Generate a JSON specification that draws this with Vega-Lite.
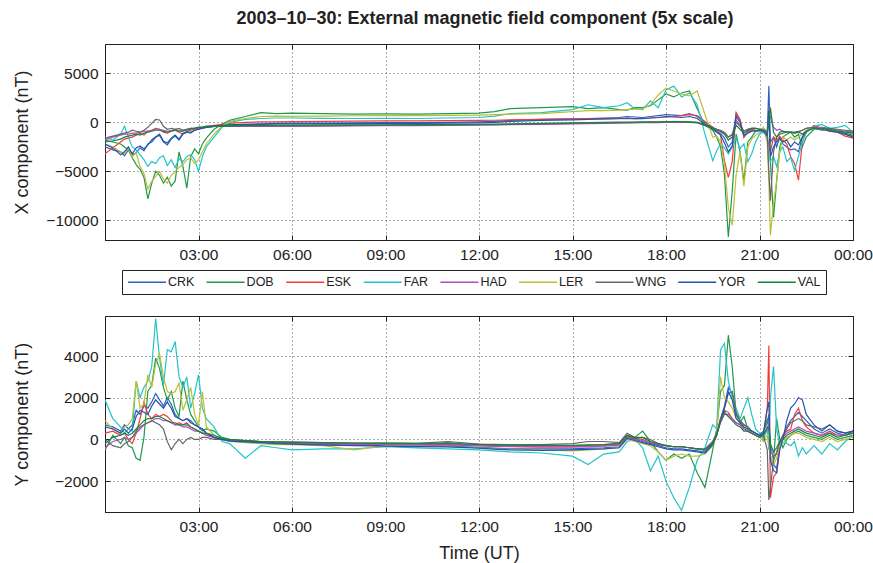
{
"$schema": "https://vega.github.io/schema/vega-lite/v6.json",
"autosize": {"type": "pad"},
"padding": {"left": 12, "top": 10, "right": 0, "bottom": 0},
"background": "white",
"title": {"text": "2003–10–30: External magnetic field component (5x scale)", "font": "Liberation Sans", "fontSize": 18, "fontWeight": "bold", "color": "#222", "offset": 15, "anchor": "middle", "frame": "group", "dx": 6},
"spacing": 76,
"bounds": "flush",
"config": {
  "view": {"stroke": "#222", "strokeWidth": 1},
  "axis": {"domainColor": "#222", "tickColor": "#222", "tickSize": -5, "labelPadding": 12, "labelFont": "Liberation Sans", "labelFontSize": 15.5, "labelColor": "#222", "titleFont": "Liberation Sans", "titleFontSize": 18, "titleFontWeight": "normal", "titleColor": "#222", "gridColor": "#333", "gridDash": [1, 3], "gridOpacity": 0.8, "labelFlush": false, "labelOverlap": false},
  "legend": {"orient": "none", "legendX": 17, "legendY": 226, "direction": "horizontal", "columns": 9, "symbolType": "M-1,0H5.33", "symbolSize": 144, "symbolStrokeWidth": 1.5, "labelFont": "Liberation Sans", "labelFontSize": 12.5, "labelColor": "#222", "labelOffset": 27, "strokeColor": "#222", "fillColor": "white", "padding": 5, "columnPadding": 8.6}
},
"data": {"values": [
{"t":0,"s":"CRK","x":-2500,"y":700},{"t":0.25,"s":"CRK","x":-2800,"y":600},{"t":0.5,"s":"CRK","x":-3000,"y":400},{"t":0.625,"s":"CRK","x":-3400,"y":700},{"t":0.75,"s":"CRK","x":-2800,"y":500},{"t":0.875,"s":"CRK","x":-3300,"y":700},{"t":1,"s":"CRK","x":-3100,"y":1400},{"t":1.125,"s":"CRK","x":-2600,"y":1200},{"t":1.25,"s":"CRK","x":-2900,"y":1600},{"t":1.375,"s":"CRK","x":-2200,"y":1500},{"t":1.5,"s":"CRK","x":-2000,"y":1800},{"t":1.625,"s":"CRK","x":-1500,"y":2200},{"t":1.75,"s":"CRK","x":-1300,"y":1900},{"t":1.875,"s":"CRK","x":-2000,"y":1600},{"t":2,"s":"CRK","x":-2300,"y":2000},{"t":2.125,"s":"CRK","x":-1700,"y":1700},{"t":2.25,"s":"CRK","x":-1400,"y":1200},{"t":2.375,"s":"CRK","x":-1800,"y":1000},{"t":2.5,"s":"CRK","x":-1200,"y":900},{"t":2.625,"s":"CRK","x":-1000,"y":1000},{"t":2.75,"s":"CRK","x":-1100,"y":900},{"t":2.875,"s":"CRK","x":-800,"y":700},{"t":3,"s":"CRK","x":-700,"y":600},{"t":3.125,"s":"CRK","x":-600,"y":500},{"t":3.25,"s":"CRK","x":-500,"y":300},{"t":3.5,"s":"CRK","x":-400,"y":100},{"t":3.75,"s":"CRK","x":-300,"y":0},{"t":4,"s":"CRK","x":-250,"y":-50},{"t":4.5,"s":"CRK","x":-200,"y":-100},{"t":5,"s":"CRK","x":-150,"y":-150},{"t":5.5,"s":"CRK","x":-100,"y":-180},{"t":6,"s":"CRK","x":-80,"y":-200},{"t":7,"s":"CRK","x":-60,"y":-250},{"t":8,"s":"CRK","x":-50,"y":-280},{"t":9,"s":"CRK","x":-30,"y":-280},{"t":10,"s":"CRK","x":-20,"y":-300},{"t":11,"s":"CRK","x":0,"y":-320},{"t":12,"s":"CRK","x":50,"y":-380},{"t":12.5,"s":"CRK","x":100,"y":-420},{"t":13,"s":"CRK","x":200,"y":-450},{"t":14,"s":"CRK","x":300,"y":-450},{"t":15,"s":"CRK","x":350,"y":-450},{"t":15.5,"s":"CRK","x":400,"y":-420},{"t":16,"s":"CRK","x":450,"y":-400},{"t":16.5,"s":"CRK","x":500,"y":-350},{"t":16.75,"s":"CRK","x":600,"y":100},{"t":17,"s":"CRK","x":550,"y":0},{"t":17.25,"s":"CRK","x":500,"y":-100},{"t":17.5,"s":"CRK","x":600,"y":-200},{"t":17.75,"s":"CRK","x":700,"y":-300},{"t":18,"s":"CRK","x":800,"y":-400},{"t":18.25,"s":"CRK","x":750,"y":-450},{"t":18.5,"s":"CRK","x":700,"y":-450},{"t":18.75,"s":"CRK","x":900,"y":-500},{"t":19,"s":"CRK","x":600,"y":-550},{"t":19.25,"s":"CRK","x":0,"y":-600},{"t":19.5,"s":"CRK","x":-600,"y":-200},{"t":19.625,"s":"CRK","x":-900,"y":300},{"t":19.75,"s":"CRK","x":-1100,"y":1000},{"t":19.875,"s":"CRK","x":-1600,"y":1600},{"t":20,"s":"CRK","x":-2500,"y":2500},{"t":20.125,"s":"CRK","x":-2000,"y":2200},{"t":20.25,"s":"CRK","x":900,"y":1200},{"t":20.375,"s":"CRK","x":200,"y":900},{"t":20.5,"s":"CRK","x":-1500,"y":700},{"t":20.625,"s":"CRK","x":-1000,"y":600},{"t":20.75,"s":"CRK","x":-800,"y":400},{"t":20.875,"s":"CRK","x":-800,"y":300},{"t":21,"s":"CRK","x":-900,"y":200},{"t":21.125,"s":"CRK","x":-1000,"y":400},{"t":21.25,"s":"CRK","x":-1000,"y":800},{"t":21.3,"s":"CRK","x":3700,"y":1200},{"t":21.35,"s":"CRK","x":-2000,"y":-800},{"t":21.45,"s":"CRK","x":-1500,"y":-1200},{"t":21.55,"s":"CRK","x":-2500,"y":-1400},{"t":21.65,"s":"CRK","x":-1500,"y":-300},{"t":21.75,"s":"CRK","x":-2200,"y":100},{"t":21.875,"s":"CRK","x":-2500,"y":600},{"t":22,"s":"CRK","x":-2800,"y":900},{"t":22.125,"s":"CRK","x":-2700,"y":1100},{"t":22.25,"s":"CRK","x":-3000,"y":1300},{"t":22.375,"s":"CRK","x":-1500,"y":1100},{"t":22.5,"s":"CRK","x":-900,"y":900},{"t":22.75,"s":"CRK","x":-500,"y":500},{"t":23,"s":"CRK","x":-600,"y":300},{"t":23.25,"s":"CRK","x":-800,"y":500},{"t":23.5,"s":"CRK","x":-900,"y":300},{"t":23.75,"s":"CRK","x":-1100,"y":200},{"t":24,"s":"CRK","x":-1300,"y":400},
{"t":0,"s":"DOB","x":-1800,"y":-500},{"t":0.25,"s":"DOB","x":-2000,"y":200},{"t":0.5,"s":"DOB","x":-2200,"y":-200},{"t":0.625,"s":"DOB","x":-2500,"y":100},{"t":0.75,"s":"DOB","x":-2800,"y":-300},{"t":0.875,"s":"DOB","x":-3600,"y":-400},{"t":1,"s":"DOB","x":-4300,"y":-900},{"t":1.125,"s":"DOB","x":-4800,"y":-1000},{"t":1.25,"s":"DOB","x":-5600,"y":100},{"t":1.375,"s":"DOB","x":-7800,"y":2300},{"t":1.5,"s":"DOB","x":-6200,"y":2600},{"t":1.625,"s":"DOB","x":-5000,"y":3900},{"t":1.75,"s":"DOB","x":-5400,"y":3400},{"t":1.875,"s":"DOB","x":-6200,"y":2500},{"t":2,"s":"DOB","x":-5600,"y":1900},{"t":2.125,"s":"DOB","x":-6500,"y":2300},{"t":2.25,"s":"DOB","x":-6000,"y":1500},{"t":2.375,"s":"DOB","x":-3000,"y":1100},{"t":2.5,"s":"DOB","x":-4500,"y":2800},{"t":2.625,"s":"DOB","x":-6700,"y":1900},{"t":2.75,"s":"DOB","x":-3500,"y":1200},{"t":2.875,"s":"DOB","x":-2700,"y":900},{"t":3,"s":"DOB","x":-3200,"y":600},{"t":3.125,"s":"DOB","x":-2200,"y":400},{"t":3.25,"s":"DOB","x":-1600,"y":500},{"t":3.5,"s":"DOB","x":-700,"y":400},{"t":3.75,"s":"DOB","x":-200,"y":100},{"t":4,"s":"DOB","x":200,"y":0},{"t":4.5,"s":"DOB","x":600,"y":-50},{"t":5,"s":"DOB","x":1000,"y":-100},{"t":5.5,"s":"DOB","x":900,"y":-150},{"t":6,"s":"DOB","x":950,"y":-150},{"t":7,"s":"DOB","x":900,"y":-200},{"t":8,"s":"DOB","x":850,"y":-200},{"t":9,"s":"DOB","x":880,"y":-220},{"t":10,"s":"DOB","x":850,"y":-230},{"t":11,"s":"DOB","x":900,"y":-150},{"t":12,"s":"DOB","x":950,"y":-280},{"t":12.5,"s":"DOB","x":1100,"y":-300},{"t":13,"s":"DOB","x":1400,"y":-250},{"t":14,"s":"DOB","x":1500,"y":-300},{"t":15,"s":"DOB","x":1600,"y":-300},{"t":15.5,"s":"DOB","x":1400,"y":-280},{"t":16,"s":"DOB","x":1500,"y":-250},{"t":16.5,"s":"DOB","x":1300,"y":-200},{"t":16.75,"s":"DOB","x":1250,"y":200},{"t":17,"s":"DOB","x":1500,"y":100},{"t":17.25,"s":"DOB","x":1500,"y":400},{"t":17.5,"s":"DOB","x":1700,"y":-100},{"t":17.75,"s":"DOB","x":2300,"y":-600},{"t":18,"s":"DOB","x":2900,"y":-1000},{"t":18.25,"s":"DOB","x":2600,"y":-700},{"t":18.5,"s":"DOB","x":3000,"y":-900},{"t":18.75,"s":"DOB","x":3200,"y":-700},{"t":19,"s":"DOB","x":1400,"y":-1600},{"t":19.25,"s":"DOB","x":-300,"y":-2300},{"t":19.5,"s":"DOB","x":-800,"y":-500},{"t":19.625,"s":"DOB","x":-1500,"y":500},{"t":19.75,"s":"DOB","x":-2500,"y":2300},{"t":19.875,"s":"DOB","x":-5300,"y":2600},{"t":20,"s":"DOB","x":-11700,"y":5000},{"t":20.125,"s":"DOB","x":-7000,"y":3500},{"t":20.25,"s":"DOB","x":-1200,"y":1200},{"t":20.375,"s":"DOB","x":-3000,"y":800},{"t":20.5,"s":"DOB","x":-6000,"y":1100},{"t":20.625,"s":"DOB","x":-2000,"y":500},{"t":20.75,"s":"DOB","x":-1500,"y":300},{"t":20.875,"s":"DOB","x":-900,"y":200},{"t":21,"s":"DOB","x":-800,"y":100},{"t":21.125,"s":"DOB","x":-600,"y":300},{"t":21.25,"s":"DOB","x":-1000,"y":1000},{"t":21.3,"s":"DOB","x":400,"y":600},{"t":21.35,"s":"DOB","x":-4000,"y":-300},{"t":21.45,"s":"DOB","x":-9700,"y":-1000},{"t":21.55,"s":"DOB","x":-6000,"y":1000},{"t":21.65,"s":"DOB","x":-2500,"y":0},{"t":21.75,"s":"DOB","x":-1500,"y":-400},{"t":21.875,"s":"DOB","x":-1200,"y":0},{"t":22,"s":"DOB","x":-1000,"y":200},{"t":22.125,"s":"DOB","x":-1500,"y":300},{"t":22.25,"s":"DOB","x":-1200,"y":400},{"t":22.375,"s":"DOB","x":-2500,"y":300},{"t":22.5,"s":"DOB","x":-1500,"y":200},{"t":22.75,"s":"DOB","x":-700,"y":100},{"t":23,"s":"DOB","x":-500,"y":0},{"t":23.25,"s":"DOB","x":-600,"y":200},{"t":23.5,"s":"DOB","x":-800,"y":0},{"t":23.75,"s":"DOB","x":-1200,"y":100},{"t":24,"s":"DOB","x":-1400,"y":200},
{"t":0,"s":"ESK","x":-3200,"y":300},{"t":0.25,"s":"ESK","x":-2600,"y":400},{"t":0.5,"s":"ESK","x":-2000,"y":200},{"t":0.625,"s":"ESK","x":-1700,"y":300},{"t":0.75,"s":"ESK","x":-1600,"y":0},{"t":0.875,"s":"ESK","x":-1500,"y":-200},{"t":1,"s":"ESK","x":-1300,"y":300},{"t":1.125,"s":"ESK","x":-1100,"y":1000},{"t":1.25,"s":"ESK","x":-1300,"y":1800},{"t":1.375,"s":"ESK","x":-900,"y":1200},{"t":1.5,"s":"ESK","x":-800,"y":1000},{"t":1.625,"s":"ESK","x":-600,"y":1200},{"t":1.75,"s":"ESK","x":-700,"y":1100},{"t":1.875,"s":"ESK","x":-1000,"y":1200},{"t":2,"s":"ESK","x":-1100,"y":1100},{"t":2.125,"s":"ESK","x":-900,"y":900},{"t":2.25,"s":"ESK","x":-800,"y":700},{"t":2.375,"s":"ESK","x":-1000,"y":800},{"t":2.5,"s":"ESK","x":-1200,"y":700},{"t":2.625,"s":"ESK","x":-900,"y":800},{"t":2.75,"s":"ESK","x":-800,"y":600},{"t":2.875,"s":"ESK","x":-700,"y":500},{"t":3,"s":"ESK","x":-600,"y":400},{"t":3.125,"s":"ESK","x":-500,"y":300},{"t":3.25,"s":"ESK","x":-400,"y":200},{"t":3.5,"s":"ESK","x":-300,"y":100},{"t":3.75,"s":"ESK","x":-200,"y":0},{"t":4,"s":"ESK","x":-100,"y":-50},{"t":4.5,"s":"ESK","x":0,"y":-100},{"t":5,"s":"ESK","x":50,"y":-120},{"t":5.5,"s":"ESK","x":50,"y":-150},{"t":6,"s":"ESK","x":70,"y":-180},{"t":7,"s":"ESK","x":100,"y":-200},{"t":8,"s":"ESK","x":120,"y":-220},{"t":9,"s":"ESK","x":150,"y":-230},{"t":10,"s":"ESK","x":150,"y":-250},{"t":11,"s":"ESK","x":180,"y":-260},{"t":12,"s":"ESK","x":200,"y":-300},{"t":12.5,"s":"ESK","x":220,"y":-320},{"t":13,"s":"ESK","x":250,"y":-330},{"t":14,"s":"ESK","x":300,"y":-350},{"t":15,"s":"ESK","x":350,"y":-350},{"t":15.5,"s":"ESK","x":380,"y":-320},{"t":16,"s":"ESK","x":350,"y":-300},{"t":16.5,"s":"ESK","x":380,"y":-250},{"t":16.75,"s":"ESK","x":400,"y":150},{"t":17,"s":"ESK","x":350,"y":50},{"t":17.25,"s":"ESK","x":400,"y":0},{"t":17.5,"s":"ESK","x":450,"y":-150},{"t":17.75,"s":"ESK","x":500,"y":-250},{"t":18,"s":"ESK","x":550,"y":-300},{"t":18.25,"s":"ESK","x":600,"y":-350},{"t":18.5,"s":"ESK","x":700,"y":-350},{"t":18.75,"s":"ESK","x":800,"y":-400},{"t":19,"s":"ESK","x":700,"y":-450},{"t":19.25,"s":"ESK","x":100,"y":-500},{"t":19.5,"s":"ESK","x":-500,"y":-100},{"t":19.625,"s":"ESK","x":-800,"y":300},{"t":19.75,"s":"ESK","x":-1300,"y":1000},{"t":19.875,"s":"ESK","x":-3900,"y":1400},{"t":20,"s":"ESK","x":-5600,"y":1300},{"t":20.125,"s":"ESK","x":-4000,"y":1000},{"t":20.25,"s":"ESK","x":1000,"y":800},{"t":20.375,"s":"ESK","x":300,"y":700},{"t":20.5,"s":"ESK","x":-1500,"y":500},{"t":20.625,"s":"ESK","x":-900,"y":400},{"t":20.75,"s":"ESK","x":-700,"y":300},{"t":20.875,"s":"ESK","x":-800,"y":200},{"t":21,"s":"ESK","x":-800,"y":100},{"t":21.125,"s":"ESK","x":-800,"y":200},{"t":21.25,"s":"ESK","x":-1200,"y":1500},{"t":21.3,"s":"ESK","x":-2500,"y":4500},{"t":21.35,"s":"ESK","x":-3000,"y":-2800},{"t":21.45,"s":"ESK","x":-1500,"y":-1800},{"t":21.55,"s":"ESK","x":-1800,"y":-1600},{"t":21.65,"s":"ESK","x":-1400,"y":-200},{"t":21.75,"s":"ESK","x":-1800,"y":200},{"t":21.875,"s":"ESK","x":-2200,"y":400},{"t":22,"s":"ESK","x":-3500,"y":500},{"t":22.125,"s":"ESK","x":-4200,"y":1200},{"t":22.25,"s":"ESK","x":-5900,"y":1500},{"t":22.375,"s":"ESK","x":-2000,"y":900},{"t":22.5,"s":"ESK","x":-1000,"y":600},{"t":22.75,"s":"ESK","x":-300,"y":300},{"t":23,"s":"ESK","x":-600,"y":200},{"t":23.25,"s":"ESK","x":-900,"y":400},{"t":23.5,"s":"ESK","x":-1000,"y":200},{"t":23.75,"s":"ESK","x":-1400,"y":200},{"t":24,"s":"ESK","x":-1600,"y":300},
{"t":0,"s":"FAR","x":-1500,"y":1900},{"t":0.25,"s":"FAR","x":-1800,"y":1000},{"t":0.5,"s":"FAR","x":-1200,"y":600},{"t":0.625,"s":"FAR","x":-400,"y":300},{"t":0.75,"s":"FAR","x":-1500,"y":500},{"t":0.875,"s":"FAR","x":-2500,"y":400},{"t":1,"s":"FAR","x":-2800,"y":2800},{"t":1.125,"s":"FAR","x":-3300,"y":2000},{"t":1.25,"s":"FAR","x":-3800,"y":2500},{"t":1.375,"s":"FAR","x":-4500,"y":2800},{"t":1.5,"s":"FAR","x":-4000,"y":3500},{"t":1.625,"s":"FAR","x":-4200,"y":5800},{"t":1.75,"s":"FAR","x":-3600,"y":3900},{"t":1.875,"s":"FAR","x":-3400,"y":2600},{"t":2,"s":"FAR","x":-4400,"y":4300},{"t":2.125,"s":"FAR","x":-3800,"y":4200},{"t":2.25,"s":"FAR","x":-4600,"y":4700},{"t":2.375,"s":"FAR","x":-3700,"y":3000},{"t":2.5,"s":"FAR","x":-4000,"y":2500},{"t":2.625,"s":"FAR","x":-3500,"y":3000},{"t":2.75,"s":"FAR","x":-3300,"y":1500},{"t":2.875,"s":"FAR","x":-3800,"y":2200},{"t":3,"s":"FAR","x":-5000,"y":3100},{"t":3.125,"s":"FAR","x":-3500,"y":1500},{"t":3.25,"s":"FAR","x":-2500,"y":1000},{"t":3.5,"s":"FAR","x":-1500,"y":600},{"t":3.75,"s":"FAR","x":-500,"y":-100},{"t":4,"s":"FAR","x":0,"y":-200},{"t":4.5,"s":"FAR","x":300,"y":-900},{"t":5,"s":"FAR","x":400,"y":-300},{"t":5.5,"s":"FAR","x":450,"y":-400},{"t":6,"s":"FAR","x":450,"y":-500},{"t":7,"s":"FAR","x":420,"y":-450},{"t":8,"s":"FAR","x":400,"y":-450},{"t":9,"s":"FAR","x":420,"y":-350},{"t":10,"s":"FAR","x":400,"y":-400},{"t":11,"s":"FAR","x":450,"y":-450},{"t":12,"s":"FAR","x":500,"y":-500},{"t":12.5,"s":"FAR","x":650,"y":-550},{"t":13,"s":"FAR","x":900,"y":-600},{"t":14,"s":"FAR","x":1000,"y":-650},{"t":15,"s":"FAR","x":1300,"y":-800},{"t":15.5,"s":"FAR","x":1800,"y":-1200},{"t":16,"s":"FAR","x":1500,"y":-700},{"t":16.5,"s":"FAR","x":1700,"y":-600},{"t":16.75,"s":"FAR","x":2000,"y":-100},{"t":17,"s":"FAR","x":1400,"y":0},{"t":17.25,"s":"FAR","x":1300,"y":-400},{"t":17.5,"s":"FAR","x":2200,"y":-1500},{"t":17.75,"s":"FAR","x":1500,"y":-800},{"t":18,"s":"FAR","x":3300,"y":-2000},{"t":18.25,"s":"FAR","x":3700,"y":-2800},{"t":18.5,"s":"FAR","x":2600,"y":-3400},{"t":18.75,"s":"FAR","x":3000,"y":-2300},{"t":19,"s":"FAR","x":1800,"y":-1000},{"t":19.25,"s":"FAR","x":-1200,"y":-400},{"t":19.5,"s":"FAR","x":-3900,"y":700},{"t":19.625,"s":"FAR","x":-2900,"y":500},{"t":19.75,"s":"FAR","x":-2200,"y":4300},{"t":19.875,"s":"FAR","x":-2600,"y":4600},{"t":20,"s":"FAR","x":-3200,"y":2800},{"t":20.125,"s":"FAR","x":-2500,"y":2000},{"t":20.25,"s":"FAR","x":-1600,"y":1500},{"t":20.375,"s":"FAR","x":-2700,"y":1000},{"t":20.5,"s":"FAR","x":-2200,"y":1500},{"t":20.625,"s":"FAR","x":-4000,"y":2000},{"t":20.75,"s":"FAR","x":-3200,"y":1200},{"t":20.875,"s":"FAR","x":-2000,"y":500},{"t":21,"s":"FAR","x":-1200,"y":300},{"t":21.125,"s":"FAR","x":-1000,"y":0},{"t":21.25,"s":"FAR","x":-1500,"y":500},{"t":21.3,"s":"FAR","x":-3500,"y":-500},{"t":21.35,"s":"FAR","x":-4000,"y":2000},{"t":21.45,"s":"FAR","x":-3500,"y":3500},{"t":21.55,"s":"FAR","x":-4500,"y":500},{"t":21.65,"s":"FAR","x":-3000,"y":-300},{"t":21.75,"s":"FAR","x":-2500,"y":100},{"t":21.875,"s":"FAR","x":-4000,"y":-200},{"t":22,"s":"FAR","x":-3600,"y":-300},{"t":22.125,"s":"FAR","x":-4900,"y":-100},{"t":22.25,"s":"FAR","x":-3500,"y":-800},{"t":22.375,"s":"FAR","x":-2000,"y":-400},{"t":22.5,"s":"FAR","x":-1000,"y":-700},{"t":22.75,"s":"FAR","x":-400,"y":-300},{"t":23,"s":"FAR","x":-200,"y":-700},{"t":23.25,"s":"FAR","x":-600,"y":-200},{"t":23.5,"s":"FAR","x":-500,"y":-500},{"t":23.75,"s":"FAR","x":-300,"y":-100},{"t":24,"s":"FAR","x":-1000,"y":200},
{"t":0,"s":"HAD","x":-1800,"y":-400},{"t":0.25,"s":"HAD","x":-1500,"y":-100},{"t":0.5,"s":"HAD","x":-1300,"y":0},{"t":0.625,"s":"HAD","x":-1200,"y":100},{"t":0.75,"s":"HAD","x":-1200,"y":0},{"t":0.875,"s":"HAD","x":-1100,"y":100},{"t":1,"s":"HAD","x":-1100,"y":300},{"t":1.125,"s":"HAD","x":-1000,"y":500},{"t":1.25,"s":"HAD","x":-900,"y":700},{"t":1.375,"s":"HAD","x":-900,"y":800},{"t":1.5,"s":"HAD","x":-800,"y":900},{"t":1.625,"s":"HAD","x":-700,"y":1000},{"t":1.75,"s":"HAD","x":-700,"y":1000},{"t":1.875,"s":"HAD","x":-800,"y":900},{"t":2,"s":"HAD","x":-900,"y":900},{"t":2.125,"s":"HAD","x":-800,"y":800},{"t":2.25,"s":"HAD","x":-700,"y":700},{"t":2.375,"s":"HAD","x":-800,"y":700},{"t":2.5,"s":"HAD","x":-800,"y":600},{"t":2.625,"s":"HAD","x":-700,"y":600},{"t":2.75,"s":"HAD","x":-600,"y":500},{"t":2.875,"s":"HAD","x":-600,"y":400},{"t":3,"s":"HAD","x":-500,"y":400},{"t":3.125,"s":"HAD","x":-500,"y":300},{"t":3.25,"s":"HAD","x":-500,"y":200},{"t":3.5,"s":"HAD","x":-400,"y":100},{"t":3.75,"s":"HAD","x":-400,"y":0},{"t":4,"s":"HAD","x":-400,"y":-50},{"t":4.5,"s":"HAD","x":-400,"y":-100},{"t":5,"s":"HAD","x":-400,"y":-120},{"t":5.5,"s":"HAD","x":-400,"y":-150},{"t":6,"s":"HAD","x":-400,"y":-170},{"t":7,"s":"HAD","x":-380,"y":-200},{"t":8,"s":"HAD","x":-350,"y":-220},{"t":9,"s":"HAD","x":-330,"y":-230},{"t":10,"s":"HAD","x":-320,"y":-250},{"t":11,"s":"HAD","x":-300,"y":-260},{"t":12,"s":"HAD","x":-280,"y":-300},{"t":12.5,"s":"HAD","x":-260,"y":-330},{"t":13,"s":"HAD","x":-230,"y":-350},{"t":14,"s":"HAD","x":-200,"y":-370},{"t":15,"s":"HAD","x":-150,"y":-370},{"t":15.5,"s":"HAD","x":-120,"y":-350},{"t":16,"s":"HAD","x":-100,"y":-320},{"t":16.5,"s":"HAD","x":-80,"y":-280},{"t":16.75,"s":"HAD","x":-60,"y":100},{"t":17,"s":"HAD","x":-50,"y":0},{"t":17.25,"s":"HAD","x":-30,"y":-50},{"t":17.5,"s":"HAD","x":-30,"y":-150},{"t":17.75,"s":"HAD","x":-20,"y":-250},{"t":18,"s":"HAD","x":0,"y":-300},{"t":18.25,"s":"HAD","x":0,"y":-350},{"t":18.5,"s":"HAD","x":0,"y":-350},{"t":18.75,"s":"HAD","x":0,"y":-400},{"t":19,"s":"HAD","x":-50,"y":-450},{"t":19.25,"s":"HAD","x":-300,"y":-500},{"t":19.5,"s":"HAD","x":-600,"y":-150},{"t":19.625,"s":"HAD","x":-800,"y":200},{"t":19.75,"s":"HAD","x":-900,"y":800},{"t":19.875,"s":"HAD","x":-1100,"y":1200},{"t":20,"s":"HAD","x":-1500,"y":1200},{"t":20.125,"s":"HAD","x":-1200,"y":1000},{"t":20.25,"s":"HAD","x":200,"y":800},{"t":20.375,"s":"HAD","x":-300,"y":700},{"t":20.5,"s":"HAD","x":-900,"y":500},{"t":20.625,"s":"HAD","x":-700,"y":400},{"t":20.75,"s":"HAD","x":-600,"y":300},{"t":20.875,"s":"HAD","x":-600,"y":200},{"t":21,"s":"HAD","x":-700,"y":100},{"t":21.125,"s":"HAD","x":-700,"y":200},{"t":21.25,"s":"HAD","x":-900,"y":500},{"t":21.3,"s":"HAD","x":1500,"y":800},{"t":21.35,"s":"HAD","x":500,"y":-500},{"t":21.45,"s":"HAD","x":-500,"y":-800},{"t":21.55,"s":"HAD","x":-800,"y":-700},{"t":21.65,"s":"HAD","x":-700,"y":-200},{"t":21.75,"s":"HAD","x":-900,"y":100},{"t":21.875,"s":"HAD","x":-1000,"y":300},{"t":22,"s":"HAD","x":-1000,"y":400},{"t":22.125,"s":"HAD","x":-1100,"y":500},{"t":22.25,"s":"HAD","x":-1000,"y":600},{"t":22.375,"s":"HAD","x":-800,"y":500},{"t":22.5,"s":"HAD","x":-600,"y":400},{"t":22.75,"s":"HAD","x":-500,"y":300},{"t":23,"s":"HAD","x":-500,"y":200},{"t":23.25,"s":"HAD","x":-700,"y":300},{"t":23.5,"s":"HAD","x":-800,"y":200},{"t":23.75,"s":"HAD","x":-900,"y":200},{"t":24,"s":"HAD","x":-1000,"y":300},
{"t":0,"s":"LER","x":-2200,"y":900},{"t":0.25,"s":"LER","x":-2500,"y":500},{"t":0.5,"s":"LER","x":-3000,"y":300},{"t":0.625,"s":"LER","x":-3200,"y":600},{"t":0.75,"s":"LER","x":-2600,"y":700},{"t":0.875,"s":"LER","x":-3500,"y":1000},{"t":1,"s":"LER","x":-3100,"y":2800},{"t":1.125,"s":"LER","x":-4500,"y":1500},{"t":1.25,"s":"LER","x":-5200,"y":1700},{"t":1.375,"s":"LER","x":-6800,"y":3100},{"t":1.5,"s":"LER","x":-6000,"y":2500},{"t":1.625,"s":"LER","x":-5500,"y":3600},{"t":1.75,"s":"LER","x":-5000,"y":4100},{"t":1.875,"s":"LER","x":-5800,"y":3000},{"t":2,"s":"LER","x":-6200,"y":2300},{"t":2.125,"s":"LER","x":-5400,"y":2200},{"t":2.25,"s":"LER","x":-5000,"y":2300},{"t":2.375,"s":"LER","x":-4600,"y":2700},{"t":2.5,"s":"LER","x":-4300,"y":1400},{"t":2.625,"s":"LER","x":-3800,"y":1900},{"t":2.75,"s":"LER","x":-3600,"y":2500},{"t":2.875,"s":"LER","x":-4200,"y":1200},{"t":3,"s":"LER","x":-3800,"y":700},{"t":3.125,"s":"LER","x":-3000,"y":2300},{"t":3.25,"s":"LER","x":-2200,"y":600},{"t":3.5,"s":"LER","x":-1200,"y":200},{"t":3.75,"s":"LER","x":-400,"y":0},{"t":4,"s":"LER","x":100,"y":-100},{"t":4.5,"s":"LER","x":400,"y":-150},{"t":5,"s":"LER","x":600,"y":-200},{"t":5.5,"s":"LER","x":650,"y":-250},{"t":6,"s":"LER","x":620,"y":-250},{"t":7,"s":"LER","x":650,"y":-300},{"t":8,"s":"LER","x":680,"y":-500},{"t":9,"s":"LER","x":700,"y":-300},{"t":10,"s":"LER","x":700,"y":-320},{"t":11,"s":"LER","x":720,"y":-350},{"t":12,"s":"LER","x":750,"y":-400},{"t":12.5,"s":"LER","x":800,"y":-450},{"t":13,"s":"LER","x":850,"y":-480},{"t":14,"s":"LER","x":900,"y":-500},{"t":15,"s":"LER","x":1100,"y":-550},{"t":15.5,"s":"LER","x":1200,"y":-500},{"t":16,"s":"LER","x":1200,"y":-450},{"t":16.5,"s":"LER","x":1250,"y":-400},{"t":16.75,"s":"LER","x":1300,"y":0},{"t":17,"s":"LER","x":1350,"y":-100},{"t":17.25,"s":"LER","x":1400,"y":-200},{"t":17.5,"s":"LER","x":1800,"y":-300},{"t":17.75,"s":"LER","x":2800,"y":-600},{"t":18,"s":"LER","x":3500,"y":-1000},{"t":18.25,"s":"LER","x":3200,"y":-800},{"t":18.5,"s":"LER","x":2900,"y":-700},{"t":18.75,"s":"LER","x":2700,"y":-800},{"t":19,"s":"LER","x":3200,"y":-800},{"t":19.25,"s":"LER","x":800,"y":-700},{"t":19.5,"s":"LER","x":-1500,"y":-300},{"t":19.625,"s":"LER","x":-1400,"y":200},{"t":19.75,"s":"LER","x":-2000,"y":3000},{"t":19.875,"s":"LER","x":-4200,"y":2000},{"t":20,"s":"LER","x":-8700,"y":1800},{"t":20.125,"s":"LER","x":-10500,"y":1500},{"t":20.25,"s":"LER","x":-5300,"y":1000},{"t":20.375,"s":"LER","x":-3000,"y":900},{"t":20.5,"s":"LER","x":-6500,"y":600},{"t":20.625,"s":"LER","x":-2500,"y":500},{"t":20.75,"s":"LER","x":-1700,"y":300},{"t":20.875,"s":"LER","x":-1300,"y":200},{"t":21,"s":"LER","x":-1000,"y":100},{"t":21.125,"s":"LER","x":-500,"y":-100},{"t":21.25,"s":"LER","x":-2000,"y":200},{"t":21.3,"s":"LER","x":-6000,"y":-300},{"t":21.35,"s":"LER","x":-11500,"y":-800},{"t":21.45,"s":"LER","x":-8300,"y":-1200},{"t":21.55,"s":"LER","x":-6000,"y":-900},{"t":21.65,"s":"LER","x":-3000,"y":-300},{"t":21.75,"s":"LER","x":-1500,"y":-200},{"t":21.875,"s":"LER","x":-1800,"y":100},{"t":22,"s":"LER","x":-1500,"y":200},{"t":22.125,"s":"LER","x":-1800,"y":300},{"t":22.25,"s":"LER","x":-1500,"y":300},{"t":22.375,"s":"LER","x":-1200,"y":200},{"t":22.5,"s":"LER","x":-800,"y":100},{"t":22.75,"s":"LER","x":-500,"y":0},{"t":23,"s":"LER","x":-600,"y":-100},{"t":23.25,"s":"LER","x":-700,"y":100},{"t":23.5,"s":"LER","x":-900,"y":-100},{"t":23.75,"s":"LER","x":-1000,"y":0},{"t":24,"s":"LER","x":-1200,"y":100},
{"t":0,"s":"WNG","x":-1600,"y":0},{"t":0.25,"s":"WNG","x":-1400,"y":-300},{"t":0.5,"s":"WNG","x":-1200,"y":-400},{"t":0.625,"s":"WNG","x":-1100,"y":-200},{"t":0.75,"s":"WNG","x":-1000,"y":-100},{"t":0.875,"s":"WNG","x":-800,"y":100},{"t":1,"s":"WNG","x":-900,"y":400},{"t":1.125,"s":"WNG","x":-1000,"y":600},{"t":1.25,"s":"WNG","x":-800,"y":700},{"t":1.375,"s":"WNG","x":-500,"y":800},{"t":1.5,"s":"WNG","x":-100,"y":900},{"t":1.625,"s":"WNG","x":300,"y":800},{"t":1.75,"s":"WNG","x":250,"y":700},{"t":1.875,"s":"WNG","x":-400,"y":500},{"t":2,"s":"WNG","x":-700,"y":-100},{"t":2.125,"s":"WNG","x":-600,"y":-500},{"t":2.25,"s":"WNG","x":-700,"y":-200},{"t":2.375,"s":"WNG","x":-600,"y":0},{"t":2.5,"s":"WNG","x":-800,"y":-200},{"t":2.625,"s":"WNG","x":-700,"y":0},{"t":2.75,"s":"WNG","x":-600,"y":100},{"t":2.875,"s":"WNG","x":-600,"y":0},{"t":3,"s":"WNG","x":-500,"y":0},{"t":3.125,"s":"WNG","x":-500,"y":100},{"t":3.25,"s":"WNG","x":-400,"y":100},{"t":3.5,"s":"WNG","x":-400,"y":0},{"t":3.75,"s":"WNG","x":-400,"y":0},{"t":4,"s":"WNG","x":-400,"y":-50},{"t":4.5,"s":"WNG","x":-350,"y":-80},{"t":5,"s":"WNG","x":-350,"y":-100},{"t":5.5,"s":"WNG","x":-350,"y":-120},{"t":6,"s":"WNG","x":-350,"y":-130},{"t":7,"s":"WNG","x":-330,"y":-150},{"t":8,"s":"WNG","x":-300,"y":-170},{"t":9,"s":"WNG","x":-280,"y":-180},{"t":10,"s":"WNG","x":-270,"y":-190},{"t":11,"s":"WNG","x":-250,"y":-100},{"t":12,"s":"WNG","x":-230,"y":-220},{"t":12.5,"s":"WNG","x":-220,"y":-240},{"t":13,"s":"WNG","x":-200,"y":-250},{"t":14,"s":"WNG","x":-150,"y":-250},{"t":15,"s":"WNG","x":-100,"y":-200},{"t":15.5,"s":"WNG","x":-80,"y":-100},{"t":16,"s":"WNG","x":-50,"y":-100},{"t":16.5,"s":"WNG","x":-30,"y":-150},{"t":16.75,"s":"WNG","x":-20,"y":300},{"t":17,"s":"WNG","x":0,"y":100},{"t":17.25,"s":"WNG","x":0,"y":100},{"t":17.5,"s":"WNG","x":20,"y":0},{"t":17.75,"s":"WNG","x":30,"y":-200},{"t":18,"s":"WNG","x":50,"y":-300},{"t":18.25,"s":"WNG","x":50,"y":-350},{"t":18.5,"s":"WNG","x":50,"y":-350},{"t":18.75,"s":"WNG","x":30,"y":-400},{"t":19,"s":"WNG","x":0,"y":-450},{"t":19.25,"s":"WNG","x":-200,"y":-450},{"t":19.5,"s":"WNG","x":-500,"y":-100},{"t":19.625,"s":"WNG","x":-700,"y":300},{"t":19.75,"s":"WNG","x":-800,"y":900},{"t":19.875,"s":"WNG","x":-1000,"y":1500},{"t":20,"s":"WNG","x":-1500,"y":2200},{"t":20.125,"s":"WNG","x":-1300,"y":2300},{"t":20.25,"s":"WNG","x":0,"y":1300},{"t":20.375,"s":"WNG","x":-400,"y":900},{"t":20.5,"s":"WNG","x":-900,"y":700},{"t":20.625,"s":"WNG","x":-700,"y":600},{"t":20.75,"s":"WNG","x":-600,"y":400},{"t":20.875,"s":"WNG","x":-600,"y":300},{"t":21,"s":"WNG","x":-700,"y":200},{"t":21.125,"s":"WNG","x":-800,"y":200},{"t":21.25,"s":"WNG","x":-1500,"y":-500},{"t":21.3,"s":"WNG","x":-5000,"y":-2900},{"t":21.35,"s":"WNG","x":-8000,"y":-2300},{"t":21.45,"s":"WNG","x":-3000,"y":-1000},{"t":21.55,"s":"WNG","x":-1500,"y":-600},{"t":21.65,"s":"WNG","x":-1200,"y":-100},{"t":21.75,"s":"WNG","x":-1100,"y":200},{"t":21.875,"s":"WNG","x":-1000,"y":500},{"t":22,"s":"WNG","x":-1000,"y":800},{"t":22.125,"s":"WNG","x":-1000,"y":900},{"t":22.25,"s":"WNG","x":-900,"y":1000},{"t":22.375,"s":"WNG","x":-800,"y":900},{"t":22.5,"s":"WNG","x":-600,"y":700},{"t":22.75,"s":"WNG","x":-500,"y":600},{"t":23,"s":"WNG","x":-600,"y":500},{"t":23.25,"s":"WNG","x":-600,"y":700},{"t":23.5,"s":"WNG","x":-700,"y":400},{"t":23.75,"s":"WNG","x":-800,"y":300},{"t":24,"s":"WNG","x":-900,"y":400},
{"t":0,"s":"YOR","x":-2200,"y":600},{"t":0.25,"s":"YOR","x":-2600,"y":500},{"t":0.5,"s":"YOR","x":-3300,"y":300},{"t":0.625,"s":"YOR","x":-3000,"y":500},{"t":0.75,"s":"YOR","x":-2500,"y":300},{"t":0.875,"s":"YOR","x":-3200,"y":500},{"t":1,"s":"YOR","x":-2600,"y":1100},{"t":1.125,"s":"YOR","x":-2400,"y":1400},{"t":1.25,"s":"YOR","x":-2700,"y":1300},{"t":1.375,"s":"YOR","x":-2300,"y":1200},{"t":1.5,"s":"YOR","x":-1800,"y":1600},{"t":1.625,"s":"YOR","x":-1500,"y":1900},{"t":1.75,"s":"YOR","x":-1200,"y":1700},{"t":1.875,"s":"YOR","x":-1900,"y":1500},{"t":2,"s":"YOR","x":-2100,"y":1800},{"t":2.125,"s":"YOR","x":-1600,"y":1500},{"t":2.25,"s":"YOR","x":-1300,"y":1100},{"t":2.375,"s":"YOR","x":-1700,"y":1000},{"t":2.5,"s":"YOR","x":-1100,"y":900},{"t":2.625,"s":"YOR","x":-1000,"y":1000},{"t":2.75,"s":"YOR","x":-1000,"y":800},{"t":2.875,"s":"YOR","x":-800,"y":700},{"t":3,"s":"YOR","x":-700,"y":600},{"t":3.125,"s":"YOR","x":-600,"y":500},{"t":3.25,"s":"YOR","x":-500,"y":300},{"t":3.5,"s":"YOR","x":-400,"y":100},{"t":3.75,"s":"YOR","x":-300,"y":0},{"t":4,"s":"YOR","x":-250,"y":-80},{"t":4.5,"s":"YOR","x":-200,"y":-120},{"t":5,"s":"YOR","x":-200,"y":-150},{"t":5.5,"s":"YOR","x":-150,"y":-200},{"t":6,"s":"YOR","x":-150,"y":-220},{"t":7,"s":"YOR","x":-130,"y":-270},{"t":8,"s":"YOR","x":-120,"y":-300},{"t":9,"s":"YOR","x":-100,"y":-320},{"t":10,"s":"YOR","x":-90,"y":-340},{"t":11,"s":"YOR","x":-80,"y":-360},{"t":12,"s":"YOR","x":-50,"y":-420},{"t":12.5,"s":"YOR","x":0,"y":-460},{"t":13,"s":"YOR","x":100,"y":-500},{"t":14,"s":"YOR","x":200,"y":-520},{"t":15,"s":"YOR","x":250,"y":-500},{"t":15.5,"s":"YOR","x":300,"y":-480},{"t":16,"s":"YOR","x":350,"y":-450},{"t":16.5,"s":"YOR","x":400,"y":-400},{"t":16.75,"s":"YOR","x":450,"y":50},{"t":17,"s":"YOR","x":400,"y":-50},{"t":17.25,"s":"YOR","x":380,"y":-150},{"t":17.5,"s":"YOR","x":450,"y":-250},{"t":17.75,"s":"YOR","x":500,"y":-350},{"t":18,"s":"YOR","x":600,"y":-450},{"t":18.25,"s":"YOR","x":550,"y":-500},{"t":18.5,"s":"YOR","x":500,"y":-500},{"t":18.75,"s":"YOR","x":600,"y":-550},{"t":19,"s":"YOR","x":400,"y":-600},{"t":19.25,"s":"YOR","x":-200,"y":-650},{"t":19.5,"s":"YOR","x":-700,"y":-250},{"t":19.625,"s":"YOR","x":-1000,"y":200},{"t":19.75,"s":"YOR","x":-1300,"y":900},{"t":19.875,"s":"YOR","x":-2100,"y":1500},{"t":20,"s":"YOR","x":-3000,"y":2300},{"t":20.125,"s":"YOR","x":-2400,"y":1900},{"t":20.25,"s":"YOR","x":600,"y":1000},{"t":20.375,"s":"YOR","x":0,"y":800},{"t":20.5,"s":"YOR","x":-1300,"y":600},{"t":20.625,"s":"YOR","x":-1100,"y":500},{"t":20.75,"s":"YOR","x":-900,"y":400},{"t":20.875,"s":"YOR","x":-900,"y":300},{"t":21,"s":"YOR","x":-800,"y":200},{"t":21.125,"s":"YOR","x":-900,"y":300},{"t":21.25,"s":"YOR","x":-1300,"y":1500},{"t":21.3,"s":"YOR","x":1200,"y":1800},{"t":21.35,"s":"YOR","x":-3500,"y":-1000},{"t":21.45,"s":"YOR","x":-2500,"y":-1500},{"t":21.55,"s":"YOR","x":-2000,"y":-1600},{"t":21.65,"s":"YOR","x":-1700,"y":-500},{"t":21.75,"s":"YOR","x":-2000,"y":0},{"t":21.875,"s":"YOR","x":-1800,"y":900},{"t":22,"s":"YOR","x":-2500,"y":1500},{"t":22.125,"s":"YOR","x":-2000,"y":1700},{"t":22.25,"s":"YOR","x":-2300,"y":2000},{"t":22.375,"s":"YOR","x":-1500,"y":1900},{"t":22.5,"s":"YOR","x":-900,"y":1200},{"t":22.75,"s":"YOR","x":-600,"y":700},{"t":23,"s":"YOR","x":-700,"y":400},{"t":23.25,"s":"YOR","x":-900,"y":700},{"t":23.5,"s":"YOR","x":-1000,"y":400},{"t":23.75,"s":"YOR","x":-1200,"y":300},{"t":24,"s":"YOR","x":-1500,"y":400},
{"t":0,"s":"VAL","x":-2000,"y":-200},{"t":0.25,"s":"VAL","x":-1900,"y":100},{"t":0.5,"s":"VAL","x":-1700,"y":200},{"t":0.625,"s":"VAL","x":-1500,"y":300},{"t":0.75,"s":"VAL","x":-1400,"y":200},{"t":0.875,"s":"VAL","x":-1300,"y":300},{"t":1,"s":"VAL","x":-1200,"y":500},{"t":1.125,"s":"VAL","x":-1300,"y":700},{"t":1.25,"s":"VAL","x":-1100,"y":900},{"t":1.375,"s":"VAL","x":-1000,"y":1000},{"t":1.5,"s":"VAL","x":-900,"y":1000},{"t":1.625,"s":"VAL","x":-800,"y":1100},{"t":1.75,"s":"VAL","x":-800,"y":1100},{"t":1.875,"s":"VAL","x":-900,"y":1000},{"t":2,"s":"VAL","x":-1000,"y":900},{"t":2.125,"s":"VAL","x":-900,"y":800},{"t":2.25,"s":"VAL","x":-800,"y":800},{"t":2.375,"s":"VAL","x":-900,"y":700},{"t":2.5,"s":"VAL","x":-900,"y":700},{"t":2.625,"s":"VAL","x":-800,"y":700},{"t":2.75,"s":"VAL","x":-700,"y":600},{"t":2.875,"s":"VAL","x":-600,"y":500},{"t":3,"s":"VAL","x":-500,"y":400},{"t":3.125,"s":"VAL","x":-500,"y":300},{"t":3.25,"s":"VAL","x":-400,"y":300},{"t":3.5,"s":"VAL","x":-400,"y":200},{"t":3.75,"s":"VAL","x":-350,"y":50},{"t":4,"s":"VAL","x":-350,"y":0},{"t":4.5,"s":"VAL","x":-300,"y":-50},{"t":5,"s":"VAL","x":-300,"y":-100},{"t":5.5,"s":"VAL","x":-280,"y":-120},{"t":6,"s":"VAL","x":-270,"y":-130},{"t":7,"s":"VAL","x":-260,"y":-150},{"t":8,"s":"VAL","x":-250,"y":-170},{"t":9,"s":"VAL","x":-240,"y":-180},{"t":10,"s":"VAL","x":-230,"y":-190},{"t":11,"s":"VAL","x":-220,"y":-200},{"t":12,"s":"VAL","x":-200,"y":-240},{"t":12.5,"s":"VAL","x":-180,"y":-260},{"t":13,"s":"VAL","x":-150,"y":-270},{"t":14,"s":"VAL","x":-100,"y":-280},{"t":15,"s":"VAL","x":-50,"y":-280},{"t":15.5,"s":"VAL","x":-30,"y":-260},{"t":16,"s":"VAL","x":0,"y":-250},{"t":16.5,"s":"VAL","x":20,"y":-200},{"t":16.75,"s":"VAL","x":30,"y":200},{"t":17,"s":"VAL","x":30,"y":50},{"t":17.25,"s":"VAL","x":50,"y":100},{"t":17.5,"s":"VAL","x":50,"y":-100},{"t":17.75,"s":"VAL","x":60,"y":-200},{"t":18,"s":"VAL","x":80,"y":-300},{"t":18.25,"s":"VAL","x":80,"y":-350},{"t":18.5,"s":"VAL","x":70,"y":-350},{"t":18.75,"s":"VAL","x":50,"y":-400},{"t":19,"s":"VAL","x":0,"y":-450},{"t":19.25,"s":"VAL","x":-300,"y":-500},{"t":19.5,"s":"VAL","x":-600,"y":-200},{"t":19.625,"s":"VAL","x":-700,"y":200},{"t":19.75,"s":"VAL","x":-900,"y":900},{"t":19.875,"s":"VAL","x":-1200,"y":1300},{"t":20,"s":"VAL","x":-1800,"y":1100},{"t":20.125,"s":"VAL","x":-1500,"y":900},{"t":20.25,"s":"VAL","x":-300,"y":700},{"t":20.375,"s":"VAL","x":-700,"y":600},{"t":20.5,"s":"VAL","x":-1100,"y":400},{"t":20.625,"s":"VAL","x":-800,"y":400},{"t":20.75,"s":"VAL","x":-600,"y":300},{"t":20.875,"s":"VAL","x":-600,"y":200},{"t":21,"s":"VAL","x":-700,"y":100},{"t":21.125,"s":"VAL","x":-800,"y":200},{"t":21.25,"s":"VAL","x":-1000,"y":600},{"t":21.3,"s":"VAL","x":300,"y":500},{"t":21.35,"s":"VAL","x":1500,"y":-200},{"t":21.45,"s":"VAL","x":-1000,"y":-600},{"t":21.55,"s":"VAL","x":-1500,"y":-400},{"t":21.65,"s":"VAL","x":-1000,"y":-100},{"t":21.75,"s":"VAL","x":-900,"y":0},{"t":21.875,"s":"VAL","x":-1000,"y":200},{"t":22,"s":"VAL","x":-1000,"y":300},{"t":22.125,"s":"VAL","x":-1100,"y":400},{"t":22.25,"s":"VAL","x":-1000,"y":500},{"t":22.375,"s":"VAL","x":-1200,"y":400},{"t":22.5,"s":"VAL","x":-900,"y":300},{"t":22.75,"s":"VAL","x":-600,"y":200},{"t":23,"s":"VAL","x":-800,"y":100},{"t":23.25,"s":"VAL","x":-700,"y":300},{"t":23.5,"s":"VAL","x":-900,"y":100},{"t":23.75,"s":"VAL","x":-1000,"y":200},{"t":24,"s":"VAL","x":-1100,"y":300}
]},
"vconcat": [
 {
  "width": 748, "height": 196,
  "layer": [
   {"mark": {"type": "line", "strokeWidth": 1.2, "clip": true},
    "encoding": {
     "x": {"field": "t", "type": "quantitative", "scale": {"domain": [0, 24], "nice": false, "zero": false},
           "axis": {"orient": "bottom", "values": [3, 6, 9, 12, 15, 18, 21, 24], "labelExpr": "datum.value == 24 ? '00:00' : (datum.value < 10 ? '0' : '') + datum.value + ':00'", "title": null, "grid": true}},
     "y": {"field": "x", "type": "quantitative", "scale": {"domain": [-12000, 8000], "nice": false, "zero": false},
           "axis": {"orient": "left", "values": [-10000, -5000, 0, 5000], "format": "d", "title": "X component (nT)", "titleX": -74, "grid": true}},
     "color": {"field": "s", "type": "nominal", "scale": {"domain": ["CRK", "DOB", "ESK", "FAR", "HAD", "LER", "WNG", "YOR", "VAL"], "range": ["#2f62bf", "#1f9a4c", "#f23c3c", "#22c4c8", "#b04ec6", "#bcbf35", "#666666", "#2553b0", "#16843e"]}, "legend": {"title": null}}
    }},
   {"mark": {"type": "point", "opacity": 0},
    "encoding": {
     "x": {"field": "t", "type": "quantitative", "axis": {"orient": "top", "values": [3, 6, 9, 12, 15, 18, 21, 24], "labels": false, "title": null, "grid": false, "domain": false}},
     "y": {"field": "x", "type": "quantitative", "axis": {"orient": "right", "values": [-10000, -5000, 0, 5000], "labels": false, "title": null, "grid": false, "domain": false}}
    }}
  ],
  "resolve": {"axis": {"x": "independent", "y": "independent"}}
 },
 {
  "width": 748, "height": 196,
  "layer": [
   {"mark": {"type": "line", "strokeWidth": 1.2, "clip": true},
    "encoding": {
     "x": {"field": "t", "type": "quantitative", "scale": {"domain": [0, 24], "nice": false, "zero": false},
           "axis": {"orient": "bottom", "values": [3, 6, 9, 12, 15, 18, 21, 24], "labelExpr": "datum.value == 24 ? '00:00' : (datum.value < 10 ? '0' : '') + datum.value + ':00'", "title": "Time (UT)", "titleY": 32, "grid": true}},
     "y": {"field": "y", "type": "quantitative", "scale": {"domain": [-3480, 5920], "nice": false, "zero": false},
           "axis": {"orient": "left", "values": [-2000, 0, 2000, 4000], "format": "d", "title": "Y component (nT)", "titleX": -74, "grid": true}},
     "color": {"field": "s", "type": "nominal", "scale": {"domain": ["CRK", "DOB", "ESK", "FAR", "HAD", "LER", "WNG", "YOR", "VAL"], "range": ["#2f62bf", "#1f9a4c", "#f23c3c", "#22c4c8", "#b04ec6", "#bcbf35", "#666666", "#2553b0", "#16843e"]}, "legend": {"title": null}}
    }},
   {"mark": {"type": "point", "opacity": 0},
    "encoding": {
     "x": {"field": "t", "type": "quantitative", "axis": {"orient": "top", "values": [3, 6, 9, 12, 15, 18, 21, 24], "labels": false, "title": null, "grid": false, "domain": false}},
     "y": {"field": "y", "type": "quantitative", "axis": {"orient": "right", "values": [-2000, 0, 2000, 4000], "labels": false, "title": null, "grid": false, "domain": false}}
    }}
  ],
  "resolve": {"axis": {"x": "independent", "y": "independent"}}
 }
]
}
